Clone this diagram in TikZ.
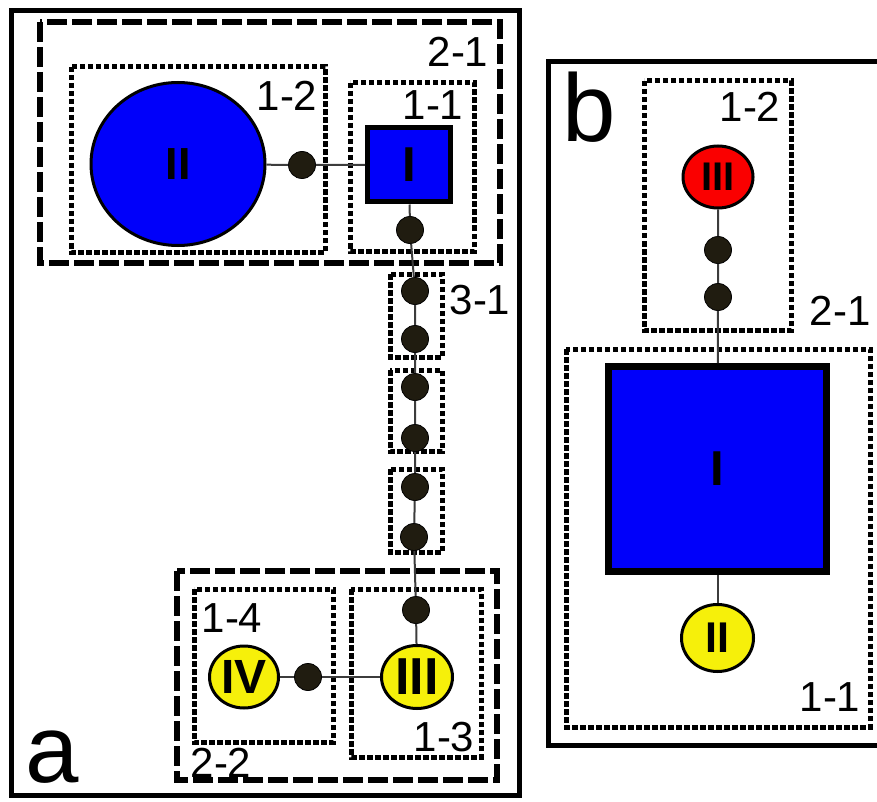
\documentclass[tikz,border=0pt]{standalone}
\usepackage{fontspec}
\setmainfont{Liberation Sans}
\usetikzlibrary{shapes.geometric}
\definecolor{hapblue}{RGB}{0,0,250}
\definecolor{hapyellow}{RGB}{246,240,10}
\definecolor{hapred}{RGB}{250,0,0}
\definecolor{dotc}{RGB}{32,28,16}
\definecolor{linec}{RGB}{60,60,60}
\begin{document}
\begin{tikzpicture}[x=1pt,y=-1pt,
  frame/.style={line width=5pt},
  grpdash/.style={line width=6pt, dash pattern=on 20pt off 5pt},
  grpdot/.style={line width=5pt, dash pattern=on 5.5pt off 2.5pt},
  hapcirc/.style={ellipse, draw=black, line width=3pt, inner sep=0pt},
  hapsq/.style={rectangle, draw=black, fill=hapblue, inner sep=0pt},
  mv/.style={circle, fill=dotc, draw=black, line width=0.8pt, minimum size=27pt, inner sep=0pt},
  conn/.style={draw=linec, line width=2pt},
  grplbl/.style={inner sep=0pt, font=\fontsize{42}{42}\selectfont},
  panellbl/.style={inner sep=0pt, anchor=base west, font=\fontsize{96}{96}\selectfont},
]
\useasboundingbox (0,0) rectangle (877,802);
\clip (0,0) rectangle (877,802);

% ---------- panel a ----------
\draw[frame] (11,11) rectangle (519,795);
\draw[grpdash] (40,22) rectangle (500,263);
\draw[grpdot] (71,67) rectangle (325,252);
\draw[grpdot] (350,83) rectangle (474,251);
\draw[grpdot] (390,274) rectangle (442,357);
\draw[grpdot] (390,370) rectangle (442,451);
\draw[grpdot] (390,469) rectangle (442,552);
\draw[grpdash] (177,571) rectangle (497,780);
\draw[grpdot] (194,589) rectangle (333,742);
\draw[grpdot] (351,589) rectangle (481,757);

\node[hapcirc, fill=hapblue, minimum width=174pt, minimum height=163pt,
      font=\bfseries\fontsize{45}{45}\selectfont] (aII) at (178,164) {II};
\node[hapsq, line width=5pt, minimum width=83pt, minimum height=74pt,
      font=\bfseries\fontsize{49}{49}\selectfont] (aI) at (409,165) {I};
\node[mv] (ad1) at (302,165) {};
\node[mv] (ad2) at (410,230) {};
\node[mv] (ad3) at (415,291) {};
\node[mv] (ad4) at (415,339) {};
\node[mv] (ad5) at (415,387) {};
\node[mv] (ad6) at (415,438) {};
\node[mv] (ad7) at (415,487) {};
\node[mv] (ad8) at (414,537) {};
\node[mv] (ad9) at (416,610) {};
\node[hapcirc, fill=hapyellow, minimum width=71pt, minimum height=63pt,
      font=\bfseries\fontsize{52}{52}\selectfont] (aIII) at (417,677) {III};
\node[mv] (ad10) at (308,677) {};
\node[hapcirc, fill=hapyellow, minimum width=69pt, minimum height=62pt,
      font=\bfseries\fontsize{48}{48}\selectfont] (aIV) at (244,677) {IV};

\draw[conn] (aII) -- (ad1) -- (aI);
\draw[conn] (aI) -- (ad2) -- (ad3) -- (ad4) -- (ad5) -- (ad6) -- (ad7) -- (ad8) -- (ad9) -- (aIII);
\draw[conn] (aIII) -- (ad10) -- (aIV);

\node[grplbl] (la21) at (458,52) {2-1};
\node[grplbl] (la12) at (287,96) {1-2};
\node[grplbl] (la11) at (433,105) {1-1};
\node[grplbl] (la31) at (480,300) {3-1};
\node[grplbl] (la14) at (232,618) {1-4};
\node[grplbl] (la13) at (444,737) {1-3};
\node[grplbl] (la22) at (221,763) {2-2};
\node[panellbl] (lpa) at (25,782) {a};

% ---------- panel b ----------
\draw[frame] (548,62) rectangle (890,745);
\draw[grpdot] (644,81) rectangle (791,330);
\draw[grpdot] (566,349) rectangle (870,727);

\node[hapcirc, fill=hapred, minimum width=70pt, minimum height=62pt,
      font=\bfseries\fontsize{40}{40}\selectfont] (bIII) at (718,177) {III};
\node[mv] (bd1) at (718,250) {};
\node[mv] (bd2) at (718,297) {};
\node[hapsq, line width=7pt, minimum width=218pt, minimum height=205pt,
      font=\bfseries\fontsize{49}{49}\selectfont] (bI) at (717.5,469) {I};
\node[hapcirc, fill=hapyellow, minimum width=72pt, minimum height=67pt,
      font=\bfseries\fontsize{43}{43}\selectfont] (bII) at (717.5,638) {II};

\draw[conn] (bIII) -- (bd1) -- (bd2) -- (bI);
\draw[conn] (bI) -- (bII);

\node[grplbl] (lb12) at (750,107) {1-2};
\node[grplbl] (lb21) at (840,311) {2-1};
\node[grplbl] (lb11) at (830,697) {1-1};
\node[panellbl] (lpb) at (562,142) {b};
\end{tikzpicture}
\end{document}
